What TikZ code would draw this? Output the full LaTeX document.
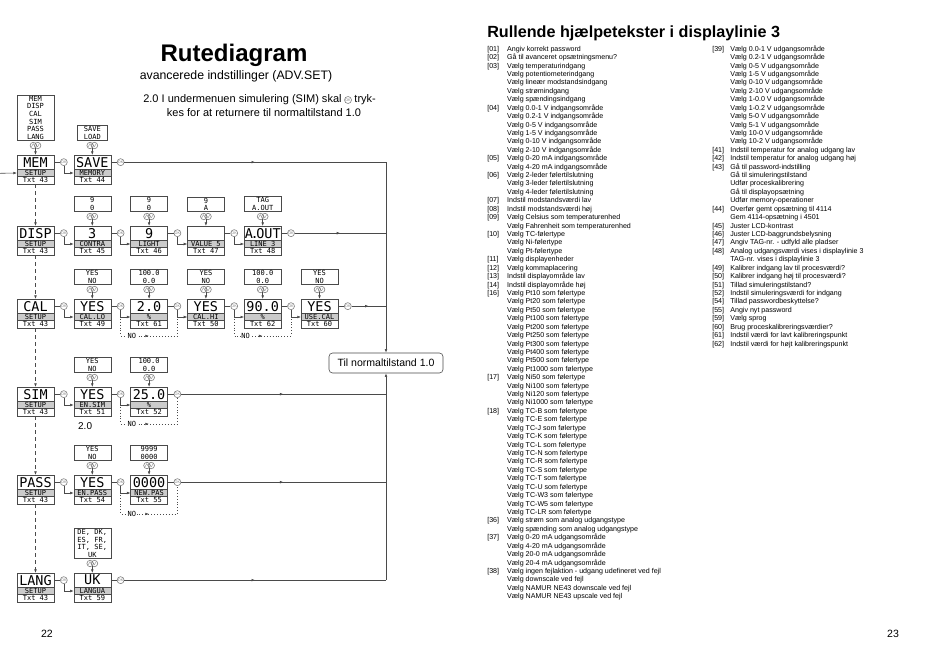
\documentclass[tikz,border=0pt]{standalone}
\usepackage{fontspec}
\setmainfont{Liberation Sans}
\newfontfamily\lcdfont{DejaVu Sans Mono}
\usetikzlibrary{arrows.meta, positioning, calc, decorations.markings}
\definecolor{cline}{HTML}{4A4A4A}
\definecolor{cband}{HTML}{CBCBCB}
\definecolor{cbtn}{HTML}{808080}
\tikzset{
  every picture/.style={line width=0.5pt},
  lcdtop/.style={draw=cline, anchor=north, minimum width=11.1mm, minimum height=4.3mm, inner sep=0pt, outer sep=0pt, font=\lcdfont\fontsize{11.5}{12}\selectfont},
  lcdband/.style={draw=cline, fill=cband, minimum width=11.1mm, minimum height=2.2mm, inner sep=0pt, outer sep=0pt, font=\lcdfont\fontsize{6}{6}\selectfont},
  lcdtxt/.style={lcdband, fill=white},
  optbox/.style={draw=cline, anchor=south, minimum width=11.1mm, inner sep=0.8pt, align=center, font=\lcdfont\fontsize{6}{6.6}\selectfont},
  okbtn/.style={circle, draw=cbtn, inner sep=0pt, minimum size=2.1mm, font=\fontsize{3.2}{3.2}\selectfont, text=cbtn},
  keybtn/.style={circle, draw=cbtn, inner sep=0pt, minimum size=1.25mm, font=\fontsize{3}{3}\selectfont, text=cline},
  link/.style={draw=cline},
  arr/.style={draw=cline, -{Latex[length=1.1mm, width=0.8mm]}},
  midarr/.style={draw=cline, postaction={decorate}, decoration={markings, mark=at position 0.5 with {\arrow{Latex[length=1.1mm, width=0.8mm]}}}},
  noloop/.style={midarr, dotted},
  nolbl/.style={fill=white, inner sep=0.4pt, font=\lcdfont\fontsize{6}{6}\selectfont},
  setupdash/.style={arr, dashed},
  notetxt/.style={inner sep=0pt, font=\fontsize{9.4}{11}\selectfont},
  txtcol/.style={anchor=north west, inner sep=0pt, font=\fontsize{6.05}{7.19}\selectfont},
}
% display: name, x, top, big text, band, txt
\newcommand\lcdbox[6]{%
  \node[lcdtop] (#1) at (#2,#3) {#4};
  \node[lcdband, below=0pt of #1] (#1b) {#5};
  \node[lcdtxt, below=0pt of #1b] (#1t) {#6};
}
% choices above a display
\newcommand\lcdopt[5][]{%
  \node[optbox,#1] (#2o) at (#3,#4-14) {#5};
  \node[keybtn] (#2ku) at (#3-2.2,#4-9.5) {$\wedge$};
  \node[keybtn] (#2kd) at (#3+2.2,#4-9.5) {$\vee$};
  \coordinate (#2k) at (#3,#4-7);
  \draw[arr] (#2k) -- (#2);
}
\newcommand\okstep[3]{%
  \node[okbtn, right=1.8mm of #1] (#2) {OK};
  \draw[link] (#1) -- (#2);
  \draw[arr] (#2.south) |- (#3b.west);
}
\newcommand\okend[2]{%
  \node[okbtn, right=1.8mm of #1] (#2) {OK};
  \draw[link] (#1) -- (#2);
}
\newcommand\tnr[1]{[#1]}

\begin{document}
\begin{tikzpicture}[x=0.3mm, y=-0.3mm]
  \useasboundingbox (0,0) rectangle (950,671);
  \fill[white] (0,0) rectangle (950,671);

  % left page
  \node[font=\bfseries\fontsize{20.5}{24}\selectfont] (rtitle) at (234,55) {Rutediagram};
  \node[font=\fontsize{10.5}{12}\selectfont] (rsub) at (236,76) {avancerede indstillinger (ADV.SET)};
  \node[notetxt, anchor=west] (note1) at (143,100) {2.0 I undermenuen simulering (SIM) skal};
  \node[okbtn, right=0.7mm of note1] (okn) {OK};
  \node[notetxt, right=0.7mm of okn] (note2) {tryk-};
  \node[notetxt] (note3) at (264,113) {kes for at returnere til normaltilstand 1.0};
  \node[draw=cline, rounded corners=3pt, minimum width=34.2mm, minimum height=6mm, font=\fontsize{9}{11}\selectfont] (tilnorm) at (386,363) {Til normaltilstand 1.0};

  % MEM
  \lcdbox{mem}{35.5}{155}{MEM}{SETUP}{Txt 43}
  \lcdopt{mem}{35.5}{155}{MEM\\DISP\\CAL\\SIM\\PASS\\LANG}
  \lcdbox{save}{92.3}{155}{SAVE}{MEMORY}{Txt 44}
  \lcdopt[minimum width=9.2mm]{save}{92.3}{155}{SAVE\\LOAD}
  \coordinate (entry) at (0,173.3);
  \draw[arr] (entry) -- (memb.west);
  \okstep{mem}{okmem}{save}
  \okend{save}{oksave}

  % DISP
  \lcdbox{disp}{35.5}{226}{DISP}{SETUP}{Txt 43}
  \lcdbox{dcon}{92.3}{226}{3}{CONTRA}{Txt 45}
  \lcdopt{dcon}{92.3}{226}{9\\0}
  \lcdbox{dlig}{149.1}{226}{9}{LIGHT}{Txt 46}
  \lcdopt{dlig}{149.1}{226}{9\\0}
  \lcdbox{dval}{205.9}{226}{}{VALUE 5}{Txt 47}
  \lcdopt{dval}{205.9}{226}{9\\A}
  \lcdbox{dline}{262.7}{226}{A\kern-2pt.\kern-2pt OUT}{LINE 3}{Txt 48}
  \lcdopt{dline}{262.7}{226}{TAG\\A.OUT}
  \okstep{disp}{okdisp}{dcon}
  \okstep{dcon}{okdcon}{dlig}
  \okstep{dlig}{okdlig}{dval}
  \okstep{dval}{okdval}{dline}
  \okend{dline}{okdline}

  % CAL
  \lcdbox{cal}{35.5}{299}{CAL}{SETUP}{Txt 43}
  \lcdbox{clo}{92.3}{299}{YES}{CAL.LO}{Txt 49}
  \lcdopt{clo}{92.3}{299}{YES\\NO}
  \lcdbox{clov}{149.1}{299}{2.0}{\%}{Txt 61}
  \lcdopt{clov}{149.1}{299}{100.0\\0.0}
  \lcdbox{chi}{205.9}{299}{YES}{CAL.HI}{Txt 50}
  \lcdopt{chi}{205.9}{299}{YES\\NO}
  \lcdbox{chiv}{262.7}{299}{90.0}{\%}{Txt 62}
  \lcdopt{chiv}{262.7}{299}{100.0\\0.0}
  \lcdbox{cuse}{319.5}{299}{YES}{USE.CAL}{Txt 60}
  \lcdopt{cuse}{319.5}{299}{YES\\NO}
  \okstep{cal}{okcal}{clo}
  \okstep{clo}{okclo}{clov}
  \okstep{clov}{okclov}{chi}
  \okstep{chi}{okchi}{chiv}
  \okstep{chiv}{okchiv}{cuse}
  \okend{cuse}{okcuse}
  \draw[noloop] (okclo.south) -- ++(0,26) -| node[nolbl, pos=0.1] {NO} (okclov.south);
  \draw[noloop] (okchi.south) -- ++(0,26) -| node[nolbl, pos=0.1] {NO} (okchiv.south);

  % SIM
  \lcdbox{sim}{35.5}{387}{SIM}{SETUP}{Txt 43}
  \lcdbox{sen}{92.3}{387}{YES}{EN.SIM}{Txt 51}
  \lcdopt{sen}{92.3}{387}{YES\\NO}
  \lcdbox{sval}{149.1}{387}{25.0}{\%}{Txt 52}
  \lcdopt{sval}{149.1}{387}{100.0\\0.0}
  \okstep{sim}{oksim}{sen}
  \okstep{sen}{oksen}{sval}
  \okend{sval}{oksval}
  \draw[noloop] (oksen.south) -- ++(0,26) -| node[nolbl, pos=0.1] {NO} (oksval.south);
  \node[anchor=west, font=\fontsize{8.5}{10}\selectfont] (simref) at (74,426) {2.0};

  % PASS
  \lcdbox{pass}{35.5}{475}{PASS}{SETUP}{Txt 43}
  \lcdbox{pen}{92.3}{475}{YES}{EN.PASS}{Txt 54}
  \lcdopt{pen}{92.3}{475}{YES\\NO}
  \lcdbox{pnew}{149.1}{475}{0000}{NEW.PAS}{Txt 55}
  \lcdopt{pnew}{149.1}{475}{9999\\0000}
  \okstep{pass}{okpass}{pen}
  \okstep{pen}{okpen}{pnew}
  \okend{pnew}{okpnew}
  \draw[noloop] (okpen.south) -- ++(0,28) -| node[nolbl, pos=0.1] {NO} (okpnew.south);

  % LANG
  \lcdbox{lang}{35.5}{573}{LANG}{SETUP}{Txt 43}
  \lcdbox{lsel}{92.3}{573}{UK}{LANGUA}{Txt 59}
  \lcdopt{lsel}{92.3}{573}{DE, DK,\\ES, FR,\\IT, SE,\\UK}
  \okstep{lang}{oklang}{lsel}
  \okend{lsel}{oklsel}

  % setup column
  \draw[setupdash] (memt.south) -- (disp.north);
  \draw[setupdash] (dispt.south) -- (cal.north);
  \draw[setupdash] (calt.south) -- (sim.north);
  \draw[setupdash] (simt.south) -- (pass.north);
  \draw[setupdash] (passt.south) -- (lang.north);

  % back to normal state
  \draw[midarr] (oksave) -- (oksave -| tilnorm);
  \draw[midarr] (okdline) -- (okdline -| tilnorm);
  \draw[midarr] (okcuse) -- (okcuse -| tilnorm);
  \draw[arr] (oksave -| tilnorm) -- (tilnorm);
  \draw[midarr] (oksval) -- (oksval -| tilnorm);
  \draw[midarr] (okpnew) -- (okpnew -| tilnorm);
  \draw[midarr] (oklsel) -- (oklsel -| tilnorm);
  \draw[arr] (oklsel -| tilnorm) -- (tilnorm);

  \node[font=\fontsize{9}{11}\selectfont] (pg22) at (47,634) {22};

  % right page
  \node[anchor=west, inner sep=0pt, font=\bfseries\fontsize{13.8}{16}\selectfont] (htitle) at (487,33) {Rullende hjælpetekster i displaylinie 3};
  \node[txtcol] (help1) at (487,45) {\begin{tabular}{@{}p{17pt}@{}l@{}}
\tnr{01} & Angiv korrekt password\\
\tnr{02} & Gå til avanceret opsætningsmenu?\\
\tnr{03} & Vælg temperaturindgang\\
 & Vælg potentiometerindgang\\
 & Vælg lineær modstandsindgang\\
 & Vælg strømindgang\\
 & Vælg spændingsindgang\\
\tnr{04} & Vælg 0.0-1 V indgangsområde\\
 & Vælg 0.2-1 V indgangsområde\\
 & Vælg 0-5 V indgangsområde\\
 & Vælg 1-5 V indgangsområde\\
 & Vælg 0-10 V indgangsområde\\
 & Vælg 2-10 V indgangsområde\\
\tnr{05} & Vælg 0-20 mA indgangsområde\\
 & Vælg 4-20 mA indgangsområde\\
\tnr{06} & Vælg 2-leder følertilslutning\\
 & Vælg 3-leder følertilslutning\\
 & Vælg 4-leder følertilslutning\\
\tnr{07} & Indstil modstandsværdi lav\\
\tnr{08} & Indstil modstandsværdi høj\\
\tnr{09} & Vælg Celsius som temperaturenhed\\
 & Vælg Fahrenheit som temperaturenhed\\
\tnr{10} & Vælg TC-følertype\\
 & Vælg Ni-følertype\\
 & Vælg Pt-følertype\\
\tnr{11} & Vælg displayenheder\\
\tnr{12} & Vælg kommaplacering\\
\tnr{13} & Indstil displayområde lav\\
\tnr{14} & Indstil displayområde høj\\
\tnr{16} & Vælg Pt10 som følertype\\
 & Vælg Pt20 som følertype\\
 & Vælg Pt50 som følertype\\
 & Vælg Pt100 som følertype\\
 & Vælg Pt200 som følertype\\
 & Vælg Pt250 som følertype\\
 & Vælg Pt300 som følertype\\
 & Vælg Pt400 som følertype\\
 & Vælg Pt500 som følertype\\
 & Vælg Pt1000 som følertype\\
\tnr{17} & Vælg Ni50 som følertype\\
 & Vælg Ni100 som følertype\\
 & Vælg Ni120 som følertype\\
 & Vælg Ni1000 som følertype\\
\tnr{18} & Vælg TC-B som følertype\\
 & Vælg TC-E som følertype\\
 & Vælg TC-J som følertype\\
 & Vælg TC-K som følertype\\
 & Vælg TC-L som følertype\\
 & Vælg TC-N som følertype\\
 & Vælg TC-R som følertype\\
 & Vælg TC-S som følertype\\
 & Vælg TC-T som følertype\\
 & Vælg TC-U som følertype\\
 & Vælg TC-W3 som følertype\\
 & Vælg TC-W5 som følertype\\
 & Vælg TC-LR som følertype\\
\tnr{36} & Vælg strøm som analog udgangstype\\
 & Vælg spænding som analog udgangstype\\
\tnr{37} & Vælg 0-20 mA udgangsområde\\
 & Vælg 4-20 mA udgangsområde\\
 & Vælg 20-0 mA udgangsområde\\
 & Vælg 20-4 mA udgangsområde\\
\tnr{38} & Vælg ingen fejlaktion - udgang udefineret ved fejl\\
 & Vælg downscale ved fejl\\
 & Vælg NAMUR NE43 downscale ved fejl\\
 & Vælg NAMUR NE43 upscale ved fejl
\end{tabular}};
  \node[txtcol] (help2) at (712,45) {\begin{tabular}{@{}p{15.4pt}@{}l@{}}
\tnr{39} & Vælg 0.0-1 V udgangsområde\\
 & Vælg 0.2-1 V udgangsområde\\
 & Vælg 0-5 V udgangsområde\\
 & Vælg 1-5 V udgangsområde\\
 & Vælg 0-10 V udgangsområde\\
 & Vælg 2-10 V udgangsområde\\
 & Vælg 1-0.0 V udgangsområde\\
 & Vælg 1-0.2 V udgangsområde\\
 & Vælg 5-0 V udgangsområde\\
 & Vælg 5-1 V udgangsområde\\
 & Vælg 10-0 V udgangsområde\\
 & Vælg 10-2 V udgangsområde\\
\tnr{41} & Indstil temperatur for analog udgang lav\\
\tnr{42} & Indstil temperatur for analog udgang høj\\
\tnr{43} & Gå til password-indstilling\\
 & Gå til simuleringstilstand\\
 & Udfør proceskalibrering\\
 & Gå til displayopsætning\\
 & Udfør memory-operationer\\
\tnr{44} & Overfør gemt opsætning til 4114\\
 & Gem 4114-opsætning i 4501\\
\tnr{45} & Juster LCD-kontrast\\
\tnr{46} & Juster LCD-baggrundsbelysning\\
\tnr{47} & Angiv TAG-nr. - udfyld alle pladser\\
\tnr{48} & Analog udgangsværdi vises i displaylinie 3\\
 & TAG-nr. vises i displaylinie 3\\
\tnr{49} & Kalibrer indgang lav til procesværdi?\\
\tnr{50} & Kalibrer indgang høj til procesværdi?\\
\tnr{51} & Tillad simuleringstilstand?\\
\tnr{52} & Indstil simuleringsværdi for indgang\\
\tnr{54} & Tillad passwordbeskyttelse?\\
\tnr{55} & Angiv nyt password\\
\tnr{59} & Vælg sprog\\
\tnr{60} & Brug proceskalibreringsværdier?\\
\tnr{61} & Indstil værdi for lavt kalibreringspunkt\\
\tnr{62} & Indstil værdi for højt kalibreringspunkt
\end{tabular}};

  \node[font=\fontsize{9}{11}\selectfont] (pg23) at (893,634) {23};
\end{tikzpicture}
\end{document}
